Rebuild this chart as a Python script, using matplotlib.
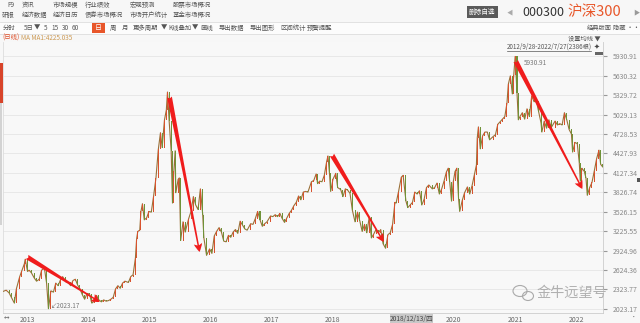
import matplotlib
matplotlib.use("Agg")
import matplotlib.pyplot as plt
import matplotlib.dates as mdates
from matplotlib.patches import Rectangle, Ellipse
from matplotlib.lines import Line2D
import numpy as np
import pandas as pd

plt.rcParams['font.family'] = ['Noto Sans CJK SC', 'DejaVu Sans']

# CSI 300 (000300) at ~2 points per month
dates = [
    "2012-09-28", "2012-10-15", "2012-11-01", "2012-11-15", "2012-12-03", "2012-12-15",
    "2013-01-04", "2013-01-15", "2013-02-01", "2013-02-06", "2013-02-20", "2013-03-01", "2013-03-15", "2013-04-01", "2013-04-15", "2013-05-01", "2013-05-15", "2013-06-01", "2013-06-14", "2013-06-25", "2013-07-10", "2013-07-25", "2013-08-08", "2013-08-22", "2013-09-05", "2013-09-18", "2013-10-08", "2013-10-22", "2013-11-05", "2013-11-19", "2013-12-03", "2013-12-17", "2013-12-31",
    "2014-01-14", "2014-01-28", "2014-02-12", "2014-02-26", "2014-03-12", "2014-03-26", "2014-04-09", "2014-04-23", "2014-05-08", "2014-05-22", "2014-06-06", "2014-06-20", "2014-07-04", "2014-07-18", "2014-08-01", "2014-08-15", "2014-08-29", "2014-09-12", "2014-09-26", "2014-10-17", "2014-10-31", "2014-11-14", "2014-11-28", "2014-12-05", "2014-12-12", "2014-12-24", "2014-12-31",
    "2015-01-09", "2015-01-20", "2015-02-03", "2015-02-17", "2015-03-03", "2015-03-17", "2015-03-31", "2015-04-14", "2015-04-27", "2015-05-07", "2015-05-21", "2015-06-01", "2015-06-08", "2015-06-18", "2015-06-30", "2015-07-08", "2015-07-16", "2015-07-24", "2015-07-28", "2015-08-11", "2015-08-18", "2015-08-26", "2015-09-09", "2015-09-22", "2015-10-13", "2015-10-27", "2015-11-10", "2015-11-24", "2015-12-08", "2015-12-22",
    "2016-01-05", "2016-01-12", "2016-01-28", "2016-02-15", "2016-02-29", "2016-03-14", "2016-03-28", "2016-04-12", "2016-04-26", "2016-05-10", "2016-05-24", "2016-06-07", "2016-06-21", "2016-07-05", "2016-07-19", "2016-08-02", "2016-08-16", "2016-08-30", "2016-09-13", "2016-09-27", "2016-10-18", "2016-11-01", "2016-11-15", "2016-11-29", "2016-12-13", "2016-12-27",
    "2017-01-10", "2017-01-24", "2017-02-14", "2017-02-28", "2017-03-14", "2017-03-28", "2017-04-11", "2017-04-25", "2017-05-09", "2017-05-23", "2017-06-06", "2017-06-20", "2017-07-04", "2017-07-18", "2017-08-01", "2017-08-15", "2017-08-29", "2017-09-12", "2017-09-26", "2017-10-17", "2017-10-31", "2017-11-14", "2017-11-23", "2017-12-05", "2017-12-19",
    "2018-01-02", "2018-01-16", "2018-01-24", "2018-02-02", "2018-02-09", "2018-02-23", "2018-03-12", "2018-03-23", "2018-04-10", "2018-04-24", "2018-05-08", "2018-05-22", "2018-06-05", "2018-06-19", "2018-07-05", "2018-07-20", "2018-08-03", "2018-08-17", "2018-08-31", "2018-09-14", "2018-09-28", "2018-10-11", "2018-10-25", "2018-11-08", "2018-11-22", "2018-12-06", "2018-12-20",
    "2019-01-04", "2019-01-18", "2019-02-01", "2019-02-15", "2019-03-01", "2019-03-08", "2019-03-22", "2019-04-08", "2019-04-19", "2019-05-06", "2019-05-17", "2019-05-31", "2019-06-14", "2019-06-28", "2019-07-12", "2019-07-26", "2019-08-09", "2019-08-23", "2019-09-06", "2019-09-20", "2019-10-11", "2019-10-25", "2019-11-08", "2019-11-22", "2019-12-06", "2019-12-20",
    "2020-01-03", "2020-01-14", "2020-01-23", "2020-02-03", "2020-02-14", "2020-02-24", "2020-03-06", "2020-03-16", "2020-03-23", "2020-04-07", "2020-04-21", "2020-05-08", "2020-05-22", "2020-06-05", "2020-06-19", "2020-07-01", "2020-07-06", "2020-07-13", "2020-07-24", "2020-08-07", "2020-08-21", "2020-09-04", "2020-09-18", "2020-10-09", "2020-10-23", "2020-11-06", "2020-11-20", "2020-12-04", "2020-12-18", "2020-12-31",
    "2021-01-08", "2021-01-20", "2021-02-01", "2021-02-10", "2021-02-18", "2021-03-01", "2021-03-09", "2021-03-19", "2021-04-02", "2021-04-16", "2021-04-30", "2021-05-14", "2021-05-28", "2021-06-11", "2021-06-25", "2021-07-09", "2021-07-23", "2021-07-28", "2021-08-11", "2021-08-25", "2021-09-08", "2021-09-22", "2021-10-15", "2021-10-29", "2021-11-12", "2021-11-26", "2021-12-10", "2021-12-24",
    "2022-01-07", "2022-01-21", "2022-01-28", "2022-02-11", "2022-02-25", "2022-03-09", "2022-03-15", "2022-03-25", "2022-04-08", "2022-04-18", "2022-04-26", "2022-05-10", "2022-05-24", "2022-06-07", "2022-06-21", "2022-07-05", "2022-07-15", "2022-07-27",
]
closes = [
    2293, 2310, 2270, 2200, 2110, 2330,
    2520, 2600, 2720, 2790, 2600, 2620, 2580, 2500, 2450, 2480, 2620, 2650, 2420, 2023.17, 2300, 2280, 2420, 2380, 2470, 2520, 2440, 2430, 2380, 2460, 2480, 2390, 2330,
    2240, 2170, 2260, 2250, 2110, 2140, 2230, 2160, 2130, 2160, 2140, 2150, 2170, 2200, 2330, 2380, 2340, 2420, 2450, 2430, 2520, 2550, 2810, 3100, 3220, 3240, 3530,
    3650, 3400, 3430, 3530, 3520, 3770, 4050, 4490, 4750, 4520, 4950, 5100, 5380, 4930, 4470, 3660, 4150, 4470, 3820, 4030, 4050, 3080, 3370, 3210, 3420, 3530, 3760, 3630, 3560, 3880,
    3480, 3120, 2850, 2950, 2880, 3150, 3220, 3280, 3210, 3070, 3060, 3160, 3130, 3210, 3250, 3190, 3380, 3320, 3260, 3240, 3340, 3330, 3420, 3530, 3400, 3300,
    3340, 3370, 3460, 3450, 3480, 3450, 3500, 3420, 3360, 3430, 3500, 3550, 3620, 3670, 3770, 3710, 3830, 3840, 3830, 3990, 4010, 4110, 3960, 4000, 3990,
    4090, 4300, 4390, 4120, 3840, 4030, 4120, 3900, 3870, 3760, 3880, 3860, 3810, 3550, 3370, 3520, 3380, 3220, 3330, 3200, 3440, 3120, 3180, 3250, 3200, 3250, 3030,
    2960, 3170, 3200, 3330, 3670, 3660, 3830, 4060, 4090, 3690, 3590, 3630, 3670, 3830, 3800, 3850, 3630, 3720, 3900, 3940, 3880, 3900, 3970, 3800, 3880, 4000,
    4140, 4200, 3990, 3690, 4000, 4150, 4200, 3730, 3530, 3700, 3820, 3910, 3800, 3930, 4100, 4250, 4670, 4840, 4500, 4700, 4760, 4760, 4640, 4690, 4720, 4880, 4920, 4960, 5000, 5210,
    5500, 5630, 5350, 5650, 5930.91, 5370, 4950, 5000, 5060, 4960, 5120, 5000, 5320, 5230, 5240, 5070, 4900, 4760, 4930, 4820, 4950, 4830, 4930, 4870, 4890, 4870, 5060, 4950,
    4800, 4730, 4450, 4600, 4580, 4280, 4000, 4200, 4150, 4050, 3780, 3900, 3980, 4160, 4350, 4480, 4260, 4220,
]

price_ticks = [2023.17, 2323.77, 2624.36, 2924.96, 3225.55, 3526.15, 3826.74, 4127.34,
               4427.93, 4728.53, 5029.13, 5329.72, 5630.32, 5930.91]
year_ticks = ["2013-01-04", "2014-01-02", "2015-01-05", "2016-01-04", "2017-01-03",
              "2018-01-02", "2019-01-02", "2020-01-02", "2021-01-04", "2022-01-04"]
# 2019 sits under the crosshair date tag
year_labels = ["2013", "2014", "2015", "2016", "2017", "2018", "", "2020", "2021", "2022"]

# red trend arrows (start -> end)
arrow_start = [("2013-02-17", 2825), ("2015-06-20", 5303), ("2018-02-17", 4405), ("2021-02-21", 5861)]
arrow_end = [("2014-04-28", 2128), ("2015-12-17", 2903), ("2018-12-24", 3058), ("2022-03-27", 3879)]

menu_row1 = ["F9", "资讯", "市场规模", "行业绩效", "宏观预测", "股票市场概况"]
menu_row2 = ["研报", "经济数据", "经济日历", "债券市场概况", "市场开户统计", "基金市场概况"]
menu_x1 = [7, 22, 53, 85, 130, 173]
menu_x2 = [2, 22, 53, 85, 130, 173]
tool_labels = ["分时", "5日", "▼", "5", "15", "30", "60", "周", "月", "更多周期", "▼",
               "K线叠加", "▼", "画线", "导出数据", "导出图形", "区间统计", "预警提醒"]
tool_x = [3, 24, 34, 44, 51, 62, 72, 110, 122, 133, 161, 168, 192, 200, 219, 250, 280, 307]

W, H = 640, 323
fig = plt.figure(figsize=(6.4, 3.23), dpi=100, facecolor='#f7f7f7')


def put(x, y, s, size=4.6, color='#555555', **kw):
    fig.text(x / W, 1 - y / H, s, fontsize=size, color=color, va='center', **kw)


def box(x0, y0, x1, y1, color):
    fig.patches.append(Rectangle((x0 / W, 1 - y1 / H), (x1 - x0) / W, (y1 - y0) / H,
                                 transform=fig.transFigure, facecolor=color, edgecolor='none'))


def hline(y, color='#dddddd'):
    fig.add_artist(Line2D([0, 1], [1 - y / H, 1 - y / H], transform=fig.transFigure,
                          color=color, lw=0.6))


# header
box(0, 22, 640, 34, '#fcfcfc')
hline(22)
hline(34)
for x, s in zip(menu_x1, menu_row1):
    put(x, 5, s)
for x, s in zip(menu_x2, menu_row2):
    put(x, 15, s)
for x, s in zip(tool_x, tool_labels):
    put(x, 28, s, size=4.6)
box(92, 23, 105, 33, '#e8562a')
put(98.5, 28, "日", size=5, color='white', ha='center')
put(587, 28, "经典版面", size=4.5)
put(613, 28, "隐藏 ··", size=4.5)

box(467, 6, 498, 18, '#5a5a5a')
put(482.5, 12, "删除自选", size=4.8, color='white', ha='center')
put(507, 12, "◀", size=4.5, color='#aaaaaa')
put(522, 12, "000300", size=9, color='#333333')
put(567, 12, "沪深300", size=10.5, color='#e8572a')
put(633, 12, "▶", size=4.5, color='#999999')

put(2, 37.5, "(日线)", size=4.6, color='#e0502a')
put(21, 37.5, "MA MA1:4225.035", size=4.6, color='#cc9a55')
put(568, 38, "设置均线 ▼", size=4.5)
put(507, 46.5, "2012/9/28-2022/7/27(2386根)", size=4.5)
fig.add_artist(Line2D([507 / W, 591 / W], [1 - 50.5 / H] * 2, transform=fig.transFigure,
                      color='#555555', lw=0.5))
put(594, 46.5, "✦", size=5, color='#444444')
box(595, 52, 603, 55, '#666666')

# scroll indicator on the left edge
box(0, 63, 3, 103, '#d8442a')
box(0, 103, 2, 225, '#d3d3d3')
box(637, 178, 640, 182, '#555555')

# chart
ax = fig.add_axes([3 / W, 10 / H, 600 / W, 271 / H])
ax.set_facecolor('#f8f8f8')

d = mdates.date2num(pd.to_datetime(dates))
c = np.array(closes, dtype=float)
o = np.r_[c[0], c[:-1]]
colors = np.where(c >= o, '#d8522e', '#6f9238')
ax.plot(d, c, color='#9a7038', lw=0.8, zorder=3)
ax.bar(d, np.maximum(np.abs(c - o), 8), bottom=np.minimum(o, c), width=6,
       color=colors, linewidth=0, zorder=4)

for (s0, v0), (s1, v1) in zip(arrow_start, arrow_end):
    ax.annotate("", xy=(mdates.date2num(pd.Timestamp(s1)), v1),
                xytext=(mdates.date2num(pd.Timestamp(s0)), v0),
                arrowprops=dict(arrowstyle="fancy,head_length=0.6,head_width=0.6,tail_width=0.35",
                                color='#f01c1c', mutation_scale=10, shrinkA=0, shrinkB=0, lw=0),
                zorder=5)

imax, imin = int(np.argmax(c)), int(np.argmin(c))
ax.annotate(f"{c[imax]:.2f}", xy=(d[imax], c[imax]), xytext=(6, -5), textcoords='offset points',
            fontsize=4.6, color='#777777', va='center')
ax.annotate(f"↙{c[imin]:.2f}", xy=(d[imin], c[imin]), xytext=(2, 2), textcoords='offset points',
            fontsize=4.6, color='#777777', va='center')

ax.set_xlim(mdates.date2num(pd.Timestamp("2012-09-26")), mdates.date2num(pd.Timestamp("2022-07-29")))
ax.set_ylim(1957, 6155)
ax.set_yticks(price_ticks)
ax.set_yticklabels([f"{v:.2f}" for v in price_ticks])
ax.yaxis.tick_right()
ax.tick_params(axis='y', length=3, pad=4, labelsize=5, colors='#999999', labelcolor='#888888')
ax.set_xticks(mdates.date2num(pd.to_datetime(year_ticks)))
ax.set_xticklabels(year_labels, ha='left')
ax.tick_params(axis='x', length=0, pad=2, labelsize=5, labelcolor='#666666')
ax.grid(axis='y', color='#e6e6e6', lw=0.6)
ax.set_axisbelow(True)
ax.spines['top'].set_visible(False)
ax.spines['left'].set_color('#dddddd')
ax.spines['right'].set_color('#cccccc')
ax.spines['bottom'].set_color('#cccccc')
for sp in ax.spines.values():
    sp.set_linewidth(0.6)

# crosshair date tag on the x axis
box(390, 314, 433, 323, '#c8c8c8')
put(411.5, 318.5, "2018/12/13/四", size=4.8, color='#444444', ha='center')
put(4, 318, "↔", size=4, color='#666666')
put(631, 318, "•", size=4, color='#666666')

# watermark
for cx, cy, w, h in [(520, 291, 14, 11), (528, 296, 11, 9)]:
    fig.add_artist(Ellipse((cx / W, 1 - cy / H), w / W, h / H, transform=fig.transFigure,
                           facecolor='none', edgecolor='#aaaaaa', lw=0.8))
put(537, 293, "金牛远望号", size=10.2, color='#b0b0b0')

fig.savefig("out.png", dpi=100, facecolor=fig.get_facecolor())
